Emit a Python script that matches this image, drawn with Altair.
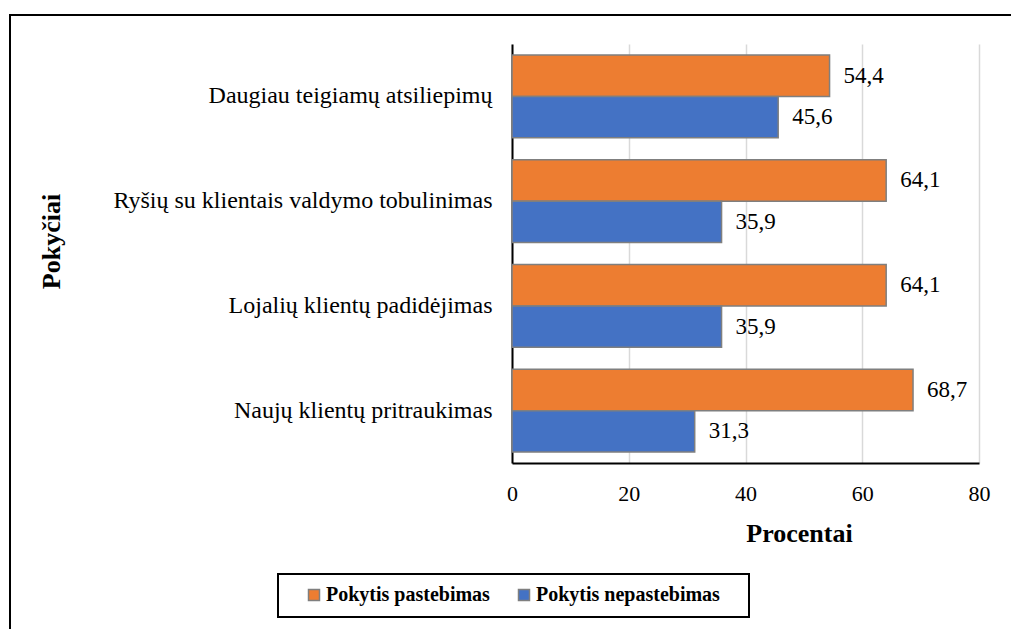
import altair as alt
import pandas as pd

categories = [
    "Daugiau teigiamų atsiliepimų",
    "Ryšių su klientais valdymo tobulinimas",
    "Lojalių klientų padidėjimas",
    "Naujų klientų pritraukimas",
]
series = ["Pokytis pastebimas", "Pokytis nepastebimas"]
pastebimas = [54.4, 64.1, 64.1, 68.7]
nepastebimas = [45.6, 35.9, 35.9, 31.3]
colors = ["#ED7D31", "#4472C4"]
x_ticks = [0, 20, 40, 60, 80]

rows = []
for c, a, b in zip(categories, pastebimas, nepastebimas):
    rows.append({"category": c, "series": series[0], "value": a})
    rows.append({"category": c, "series": series[1], "value": b})
df = pd.DataFrame(rows)

FONT = "Liberation Serif"

y_enc = alt.Y(
    "category:N",
    sort=categories,
    scale=alt.Scale(paddingInner=0.21, paddingOuter=0.105),
    axis=alt.Axis(
        title="Pokyčiai",
        titleFont=FONT,
        titleFontSize=26,
        titleFontWeight="bold",
        titleColor="black",
        titleAngle=270,
        titleX=-453,
        titleY=197,
        titleAlign="center",
        titleBaseline="alphabetic",
        labelFont=FONT,
        labelFontSize=24,
        labelFontWeight="normal",
        labelColor="black",
        labelPadding=20,
        labelLimit=600,
        ticks=False,
        domainColor="black",
        domainWidth=2,
        grid=False,
    ),
)
yoff_enc = alt.YOffset("series:N", sort=series, scale=alt.Scale(paddingInner=0, paddingOuter=0))
x_enc = alt.X(
    "value:Q",
    scale=alt.Scale(domain=[0, 80], nice=False),
    axis=alt.Axis(
        title="Procentai",
        titleFont=FONT,
        titleFontSize=26,
        titleFontWeight="bold",
        titleColor="black",
        titleX=287,
        titleY=78,
        titleAlign="center",
        titleBaseline="alphabetic",
        values=x_ticks,
        labelFont=FONT,
        labelFontSize=22,
        labelFontWeight="normal",
        labelColor="black",
        labelPadding=20,
        labelFlush=False,
        ticks=False,
        domainColor="black",
        domainWidth=2,
        grid=True,
        gridColor="#d9d9d9",
        gridWidth=1.5,
    ),
)

base = alt.Chart(df).transform_calculate(
    label="replace(format(datum.value, '.1f'), '.', ',')"
)

bars = base.mark_bar(stroke="#7f7f7f", strokeWidth=1.5).encode(
    y=y_enc,
    yOffset=yoff_enc,
    x=x_enc,
    color=alt.Color(
        "series:N",
        sort=series,
        scale=alt.Scale(domain=series, range=colors),
        legend=alt.Legend(
            title=None,
            orient="none",
            legendX=-208,
            legendY=541,
            direction="horizontal",
            padding=0,
            labelFont=FONT,
            labelFontSize=20,
            labelFontWeight="bold",
            labelColor="black",
            labelLimit=500,
            labelOffset=2,
            columnPadding=24,
            symbolType="square",
            symbolSize=121,
            symbolStrokeColor="#7f7f7f",
            symbolStrokeWidth=1.5,
            symbolOpacity=1,
        ),
    ),
)

labels = base.mark_text(
    align="left", baseline="middle", dx=14, fontSize=23, font=FONT, color="black"
).encode(
    y=alt.Y("category:N", sort=categories),
    yOffset=yoff_enc,
    x=alt.X("value:Q"),
    text="label:N",
)

frame = alt.Chart(alt.Data(values=[{"k": 0}])).mark_rect(
    fill="white", fillOpacity=0, stroke="black", strokeWidth=2
).encode(
    x=alt.value(-502), x2=alt.value(800), y=alt.value(-29), y2=alt.value(900)
)

legend_box = alt.Chart(alt.Data(values=[{"k": 0}])).mark_rect(
    fill="white", fillOpacity=0, stroke="black", strokeWidth=2
).encode(
    x=alt.value(-234), x2=alt.value(237), y=alt.value(530), y2=alt.value(573)
)

chart = (
    alt.layer(frame, bars, labels, legend_box)
    .properties(
        width=467,
        height=419,
        padding={"left": 504, "top": 36, "right": 32, "bottom": 166},
        autosize=alt.AutoSizeParams(type="none"),
        background="white",
    )
    .configure(font=FONT)
    .configure_view(stroke=None)
)

chart.save("out.html", embed_options={"renderer": "svg", "actions": False})
